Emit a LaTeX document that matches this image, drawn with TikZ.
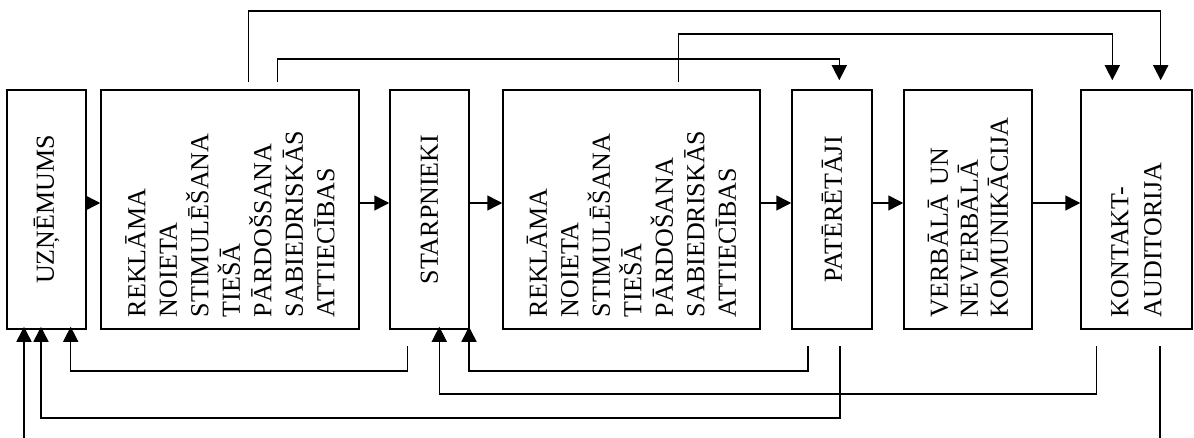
\documentclass[tikz,border=0pt]{standalone}
\usepackage{fontspec}
\setmainfont{Liberation Serif}
\usetikzlibrary{arrows.meta,calc}
\tikzset{
  box/.style={draw, line width=1.5pt, rectangle, inner sep=0pt, minimum height=239pt},
  lbl/.style={rotate=90, inner sep=0pt, font=\fontsize{26}{31.5}\selectfont},
  multi/.style={lbl, text width=215pt, align=left},
  conn/.style={line width=1.5pt},
  arr/.style={conn, -{Triangle[length=15pt,width=15pt]}}
}
\begin{document}
\begin{tikzpicture}[x=1pt,y=-1pt]
\useasboundingbox (0,0) rectangle (1194,438);
% boxes
\node[box, minimum width=79pt]  (b1) at (46.5,209.5) {};
\node[box, minimum width=258pt] (b2) at (230,209.5) {};
\node[box, minimum width=79pt]  (b3) at (429.5,209.5) {};
\node[box, minimum width=257pt] (b4) at (631.5,209.5) {};
\node[box, minimum width=80pt]  (b5) at (832,209.5) {};
\node[box, minimum width=128pt] (b6) at (968,209.5) {};
\node[box, minimum width=111pt] (b7) at (1136.5,209.5) {};
% labels
\node[lbl] (t1) at (b1.center) {UZŅĒMUMS};
\node[multi] (t2) at (b2.center) {REKLĀMA\\NOIETA\\STIMULĒŠANA\\TIEŠĀ\\PĀRDOŠSANA\\SABIEDRISKĀS\\ATTIECĪBAS};
\node[lbl] (t3) at (b3.center) {STARPNIEKI};
\node[multi] (t4) at (b4.center) {REKLĀMA\\NOIETA\\STIMULĒŠANA\\TIEŠĀ\\PĀRDOŠANA\\SABIEDRISKĀS\\ATTIECĪBAS};
\node[lbl] (t5) at (b5.center) {PATĒRĒTĀJI};
\node[multi, font=\fontsize{26}{30}\selectfont] (t6) at (b6.center) {VERBĀLĀ UN\\NEVERBĀLĀ\\KOMUNIKĀCIJA};
\node[multi, font=\fontsize{26}{33}\selectfont] (t7) at (b7.center) {KONTAKT-\\AUDITORIJA};
% main chain
\draw[arr] ($(b1.east)+(0,-6.5)$) -- ($(b2.west)+(0,-6.5)$);
\draw[arr] ($(b2.east)+(0,-6.5)$) -- ($(b3.west)+(0,-6.5)$);
\draw[arr] ($(b3.east)+(0,-6.5)$) -- ($(b4.west)+(0,-6.5)$);
\draw[arr] ($(b4.east)+(0,-6.5)$) -- ($(b5.west)+(0,-6.5)$);
\draw[arr] ($(b5.east)+(0,-6.5)$) -- ($(b6.west)+(0,-6.5)$);
\draw[arr] ($(b6.east)+(0,-6.5)$) -- ($(b7.west)+(0,-6.5)$);
% top feed-forward lines
\draw[arr] ($(b2.north)+(18.3,-7)$) -- ++(0,-71.3) -| ($(b7.north)+(24.2,-9)$);
\draw[arr] ($(b2.north)+(47.3,-7)$) -- ++(0,-23) -| ($(b5.north)+(7.3,-9)$);
\draw[arr] ($(b4.north)+(46.8,-7)$) -- ++(0,-48) -| ($(b7.north)+(-24.2,-9)$);
% bottom feedback lines
\draw[arr] ($(b3.south)+(-21.8,16.7)$) -- ++(0,24.3) -| ($(b1.south)+(24.2,-3)$);
\draw[arr] ($(b5.south)+(8,16)$) -- ++(0,72.3) -| ($(b1.south)+(-5.5,-3)$);
\draw[arr] ($(b5.south)+(-24,16)$) -- ++(0,25) -| ($(b3.south)+(39.5,-3)$);
\draw[arr] ($(b7.south)+(-39.8,16)$) -- ++(0,48) -| ($(b3.south)+(9.8,-3)$);
\coordinate (e7) at ($(b7.south)+(23.5,112)$);
\draw[conn] ($(b7.south)+(23.5,16)$) -- (e7);
\coordinate (e1) at ($(b1.south)+(-22.5,112)$);
\draw[arr] (e1) -- ($(b1.south)+(-22.5,-3)$);
\end{tikzpicture}
\end{document}
